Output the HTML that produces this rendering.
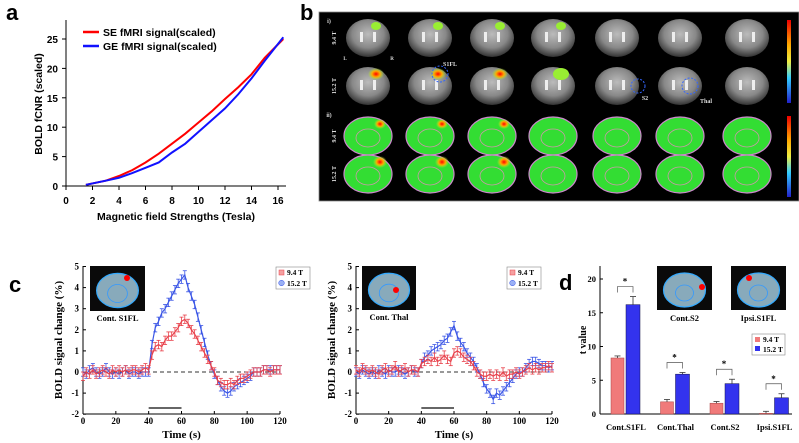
<!DOCTYPE html>
<html><head><meta charset="utf-8"><style>
html,body{margin:0;padding:0;background:#fff;}
svg{display:block;}
.sans{font-family:"Liberation Sans",sans-serif;font-weight:bold;}
.serif{font-family:"Liberation Serif",serif;font-weight:bold;}
</style></head><body>
<svg id="fig" width="799" height="443" viewBox="0 0 799 443" xmlns="http://www.w3.org/2000/svg">
<defs>
<radialGradient id="gb" cx="50%" cy="40%" r="60%"><stop offset="0" stop-color="#bbb"/><stop offset="0.6" stop-color="#888"/><stop offset="1" stop-color="#333"/></radialGradient>
<radialGradient id="hot" cx="50%" cy="50%" r="50%"><stop offset="0" stop-color="#f00"/><stop offset="0.5" stop-color="#fa0"/><stop offset="1" stop-color="#9f3" stop-opacity="0"/></radialGradient>
<linearGradient id="cbar" x1="0" y1="0" x2="0" y2="1"><stop offset="0" stop-color="#e00"/><stop offset="0.3" stop-color="#fa0"/><stop offset="0.5" stop-color="#ee4"/><stop offset="0.7" stop-color="#3cf"/><stop offset="1" stop-color="#22c"/></linearGradient>
</defs>
<g id="pa"></g>
<g id="pb"></g>
<g id="pc1"></g>
<g id="pc2"></g>
<g id="pd"></g>
</svg>
<script>
// ---- Panel a data
const aXTicks=[0,2,4,6,8,10,12,14,16];
const aYTicks=[0,5,10,15,20,25];
const seField=[1.5,3,4,5,6,7,8,9,10,11,12,13,14,15,16.4];
const seVals=[0.2,0.9,1.7,2.7,4,5.5,7.2,8.9,10.8,12.7,14.8,16.8,19,21.8,25];
const geField=[1.5,3,4,5,6,7,8,9,10,11,12,13,14,15,16.4];
const geVals=[0.2,0.9,1.4,2.2,3.1,4,5.7,7.2,9.2,11.2,13.2,15.6,18.3,21.3,25.3];
// ---- Panel c data (time step 2 s, 0..120)
const cTimes=[0,2,4,6,8,10,12,14,16,18,20,22,24,26,28,30,32,34,36,38,40,42,44,46,48,50,52,54,56,58,60,62,64,66,68,70,72,74,76,78,80,82,84,86,88,90,92,94,96,98,100,102,104,106,108,110,112,114,116,118,120];
const c1Red=[-0.2,0,-0.1,0.1,-0.1,0,0.1,0,-0.1,0.1,0,0.1,0,0.1,0,0.1,0.1,0,0.1,0.2,0.1,0.8,1.2,1.3,1.2,1.5,1.7,1.7,1.9,2.1,2.4,2.5,2.3,2.0,1.8,1.5,1.2,0.9,0.6,0.3,0,-0.4,-0.5,-0.6,-0.6,-0.5,-0.6,-0.4,-0.3,-0.3,-0.2,-0.1,0,0,0,0.1,0.1,0,0.1,0.1,0.1];
const c1Blue=[0,-0.1,0.1,0.2,0,-0.1,0,0.2,0,-0.1,0,-0.1,0,0.1,-0.1,0,0,-0.1,0,0,0,1.3,2.1,2.4,2.8,3.0,3.3,3.6,3.9,4.2,4.4,4.6,4.0,3.6,3.2,2.6,2.0,1.4,0.8,0.3,-0.1,-0.4,-0.7,-0.9,-1.0,-0.9,-0.7,-0.6,-0.5,-0.4,-0.3,-0.2,0,0,0,0.1,0.1,0.1,0.1,0.1,0.1];
const c2Red=[0.1,0,0.2,0.1,0,0.1,0,-0.1,0.1,0.2,0,0.1,0.3,0,0.1,0.2,0,0.1,0.1,0,0.4,0.5,0.6,0.5,0.7,0.5,0.6,0.8,0.6,0.5,0.9,1.0,0.9,0.7,0.6,0.5,0.3,0,-0.1,-0.2,-0.2,-0.1,-0.2,-0.1,-0.2,0,-0.2,-0.1,-0.1,0,-0.1,0,0.1,0.2,0.1,0.2,0.1,0.2,0.2,0.3,0.2];
const c2Blue=[0,-0.1,0.1,0,-0.1,0,-0.1,0.1,0,-0.1,0.1,0,0,0.1,0,-0.1,0,0.1,0,0,0.4,0.7,0.8,1.0,1.1,1.2,1.3,1.5,1.6,1.9,2.2,1.7,1.4,1.2,0.9,0.7,0.5,0.2,-0.1,-0.5,-0.8,-1.0,-1.3,-1.0,-1.1,-0.9,-0.7,-0.5,-0.3,-0.1,0,0,0.2,0.4,0.5,0.5,0.4,0.3,0.3,0.2,0.3];
const cXTicks=[0,20,40,60,80,100,120];
const cYTicks=[-2,-1,0,1,2,3,4,5];
// ---- Panel d data
const dCats=["Cont.S1FL","Cont.Thal","Cont.S2","Ipsi.S1FL"];
const d94=[8.3,1.8,1.6,0.1];
const d94Err=[0.3,0.35,0.25,0.3];
const d152=[16.2,5.9,4.5,2.4];
const d152Err=[1.2,0.25,0.65,0.6];
const dYTicks=[0,5,10,15,20];

const NS="http://www.w3.org/2000/svg";
function mk(tag,attrs,parent,txt){const e=document.createElementNS(NS,tag);for(const k in attrs)e.setAttribute(k,attrs[k]);if(txt!==undefined)e.textContent=txt;parent.appendChild(e);return e;}

// ===== Panel a
(function(){
const g=document.getElementById('pa');
const x=v=>66+v*13.25, y=v=>186-v*5.88;
const t=mk('text',{x:6,y:20,'font-size':22,class:'sans'},g,'a');

mk('line',{x1:66,y1:20,x2:66,y2:186,stroke:'#000','stroke-width':1},g);
mk('line',{x1:66,y1:186,x2:286,y2:186,stroke:'#000','stroke-width':1},g);
aYTicks.forEach(v=>{mk('line',{x1:62,x2:66,y1:y(v),y2:y(v),stroke:'#000'},g);
 const l=mk('text',{x:58,y:y(v)+4,'text-anchor':'end','font-size':10,class:'sans'},g,v);
 });
aXTicks.forEach(v=>{mk('line',{x1:x(v),x2:x(v),y1:186,y2:190,stroke:'#000'},g);
 const l=mk('text',{x:x(v),y:204,'text-anchor':'middle','font-size':10,class:'sans'},g,v);
 });
const xt=mk('text',{x:176,y:220,'text-anchor':'middle','font-size':10.5,class:'sans'},g,'Magnetic field Strengths (Tesla)');

const yt=mk('text',{x:0,y:0,'text-anchor':'middle','font-size':10.5,class:'sans',transform:'translate(42,104) rotate(-90)'},g,'BOLD fCNR (scaled)');

const se=mk('polyline',{points:seField.map((f,i)=>x(f)+','+y(seVals[i])).join(' '),fill:'none',stroke:'#f00','stroke-width':2},g);

const ge=mk('polyline',{points:geField.map((f,i)=>x(f)+','+y(geVals[i])).join(' '),fill:'none',stroke:'#11f','stroke-width':2},g);

mk('line',{x1:83,x2:99,y1:32,y2:32,stroke:'#f00','stroke-width':2.5},g);
mk('line',{x1:83,x2:99,y1:46,y2:46,stroke:'#11f','stroke-width':2.5},g);
const l1=mk('text',{x:103,y:36,'font-size':10.5,class:'sans'},g,'SE fMRI signal(scaled)');

const l2=mk('text',{x:103,y:50,'font-size':10.5,class:'sans'},g,'GE fMRI signal(scaled)');

})();

// ===== Panel b
(function(){
const g=document.getElementById('pb');
const t=mk('text',{x:300,y:20,'font-size':22,class:'sans'},g,'b');

mk('rect',{x:319,y:12,width:480,height:189,fill:'#000',stroke:'#888','stroke-width':0.8},g);
const cols=[368,430,492,553,617,680,747];
const rows=[38,86,136,174];
rows.forEach((cy,r)=>{cols.forEach((cx,c)=>{
 if(r<2){
  const b=mk('ellipse',{cx:cx,cy:cy,rx:22,ry:19,fill:'url(#gb)'},g);
  
  mk('rect',{x:cx-8,y:cy-6,width:3,height:10,fill:'#eee'},g);
  mk('rect',{x:cx+5,y:cy-6,width:3,height:10,fill:'#eee'},g);
  if(c<4){mk('ellipse',{cx:cx+8,cy:cy-12,rx:r?8:5,ry:r?6:4,fill:r&&c<3?'url(#hot)':'#9e3'},g);}
 } else {
  const b=mk('ellipse',{cx:cx,cy:cy,rx:24,ry:19,fill:'#3d3',stroke:'#c8c','stroke-width':1.2},g);
  
  mk('ellipse',{cx:cx,cy:cy+2,rx:12,ry:9,fill:'none',stroke:'#c9a','stroke-width':0.8},g);
  if(c<3){mk('ellipse',{cx:cx+12,cy:cy-12,rx:r==3?7:6,ry:r==3?6:5,fill:'url(#hot)'},g);}
 }
});});
[[20,103],[116,197]].forEach(([a,b2])=>{const cb=mk('rect',{x:787,y:a,width:4,height:b2-a,fill:'url(#cbar)'},g);
 });
const lab=(x,y,s,sz,rot)=>{const e=mk('text',{x:x,y:y,'font-size':sz||6,fill:'#ddd',class:'serif','text-anchor':'middle',transform:rot?`rotate(-90 ${x} ${y})`:''},g,s);};
lab(329,23,'i)');lab(329,117,'ii)');
lab(336,38,'9.4 T',6,1);lab(336,86,'15.2 T',6,1);lab(336,136,'9.4 T',6,1);lab(336,174,'15.2 T',6,1);
lab(345,60,'L',5);lab(392,60,'R',5);lab(450,66,'S1FL',6);lab(645,100,'S2',6);lab(706,103,'Thal',6);
mk('circle',{cx:440,cy:74,r:8,fill:'none',stroke:'#36f','stroke-width':1,'stroke-dasharray':'2,1.5'},g);
mk('circle',{cx:638,cy:86,r:7,fill:'none',stroke:'#36f','stroke-width':1,'stroke-dasharray':'2,1.5'},g);
mk('circle',{cx:690,cy:86,r:8,fill:'none',stroke:'#36f','stroke-width':1,'stroke-dasharray':'2,1.5'},g);
})();

// ===== Panel c
function tsPanel(gid,x0,x1,red,blue,inset,label,legX,letter){
const g=document.getElementById(gid);
const x=v=>x0+v*(x1-x0)/120, y=v=>372-v*21.1;
if(letter){const t=mk('text',{x:9,y:292,'font-size':22,class:'sans'},g,letter);}
mk('line',{x1:x0,y1:266,x2:x0,y2:414,stroke:'#000'},g);
mk('line',{x1:x0,y1:414,x2:x1,y2:414,stroke:'#000'},g);
cYTicks.forEach(v=>{mk('line',{x1:x0,x2:x0+3,y1:y(v),y2:y(v),stroke:'#000'},g);
 const l=mk('text',{x:x0-4,y:y(v)+3,'text-anchor':'end','font-size':9,class:'serif'},g,v);
 });
cXTicks.forEach(v=>{mk('line',{x1:x(v),x2:x(v),y1:414,y2:411,stroke:'#000'},g);
 const l=mk('text',{x:x(v),y:424,'text-anchor':'middle','font-size':9,class:'serif'},g,v);
 });
const xt=mk('text',{x:(x0+x1)/2,y:438,'text-anchor':'middle','font-size':11,class:'serif'},g,'Time (s)');

const yt=mk('text',{x:0,y:0,'text-anchor':'middle','font-size':11,class:'serif',transform:`translate(${x0-21},340) rotate(-90)`},g,'BOLD signal change (%)');

mk('line',{x1:x0,x2:x1,y1:y(0),y2:y(0),stroke:'#333','stroke-dasharray':'4,3'},g);
const stim=mk('line',{x1:x(40),x2:x(60),y1:408,y2:408,stroke:'#666','stroke-width':2},g);

[[blue,'#3a55e6','#9ab0f5','circle'],[red,'#e8404a','#f5a0a0','rect']].forEach(([vals,col,fillc,shape])=>{
 vals.forEach((v,i)=>{const e=0.2,px=x(cTimes[i]);
  mk('line',{x1:px,x2:px,y1:y(v+e),y2:y(v-e),stroke:col,'stroke-width':0.8},g);
  mk('line',{x1:px-2,x2:px+2,y1:y(v+e),y2:y(v+e),stroke:col,'stroke-width':0.8},g);
  mk('line',{x1:px-2,x2:px+2,y1:y(v-e),y2:y(v-e),stroke:col,'stroke-width':0.8},g);
 });
 const pl=mk('polyline',{points:vals.map((v,i)=>x(cTimes[i])+','+y(v)).join(' '),fill:'none',stroke:col,'stroke-width':1.2},g);
 
});
const ins=mk('rect',{x:inset[0],y:inset[1],width:inset[2],height:inset[3],fill:'#0a0a0a'},g);

const icx=inset[0]+inset[2]/2,icy=inset[1]+inset[3]/2+2;
mk('ellipse',{cx:icx,cy:icy,rx:inset[2]*0.38,ry:inset[3]*0.38,fill:'#8ab',stroke:'#3af','stroke-width':1.2},g);
mk('ellipse',{cx:icx,cy:icy+3,rx:inset[2]*0.18,ry:inset[3]*0.2,fill:'none',stroke:'#39f','stroke-width':0.8},g);
mk('circle',{cx:inset[4],cy:inset[5],r:3,fill:'#f00'},g);
const il=mk('text',{x:icx,y:inset[1]+inset[3]+10,'text-anchor':'middle','font-size':8.5,class:'serif'},g,label);

mk('rect',{x:legX,y:267,width:34,height:22,fill:'#fff',stroke:'#888','stroke-width':0.6},g);
mk('rect',{x:legX+3,y:270,width:5,height:5,fill:'#f5a0a0',stroke:'#e8404a','stroke-width':0.5},g);
mk('circle',{cx:legX+5.5,cy:283,r:2.8,fill:'#9ab0f5',stroke:'#3a55e6','stroke-width':0.5},g);
const a1=mk('text',{x:legX+11,y:275,'font-size':7.5,class:'serif'},g,'9.4 T');
const a2=mk('text',{x:legX+11,y:286,'font-size':7.5,class:'serif'},g,'15.2 T');
}
tsPanel('pc1',83,280,c1Red,c1Blue,[90,266,55,45,127,278],'Cont. S1FL',276,'c');
tsPanel('pc2',356,552,c2Red,c2Blue,[362,266,54,44,396,290],'Cont. Thal',507,null);

// ===== Panel d
(function(){
const g=document.getElementById('pd');
const y=v=>414-v*6.75, gx=i=>611+i*49.5;
const t=mk('text',{x:559,y:290,'font-size':22,class:'sans'},g,'d');
mk('line',{x1:600,y1:266,x2:600,y2:414,stroke:'#000'},g);
mk('line',{x1:600,y1:414,x2:792,y2:414,stroke:'#000'},g);
dYTicks.forEach(v=>{mk('line',{x1:600,x2:603,y1:y(v),y2:y(v),stroke:'#000'},g);
 const l=mk('text',{x:596,y:y(v)+3,'text-anchor':'end','font-size':8.5,class:'serif'},g,v);
 });
const yt=mk('text',{x:0,y:0,'text-anchor':'middle','font-size':10,class:'serif',transform:'translate(586,340) rotate(-90)'},g,'t value');

dCats.forEach((c,i)=>{
 const x=gx(i);
 const r=mk('rect',{x:x,y:y(d94[i]),width:13,height:y(0)-y(d94[i]),fill:'#f07a7a',stroke:'#a44','stroke-width':0.5},g);
 
 const b=mk('rect',{x:x+15,y:y(d152[i]),width:14,height:y(0)-y(d152[i]),fill:'#3333ee',stroke:'#114','stroke-width':0.5},g);
 
 [[x+6.5,d94[i],d94Err[i]],[x+22,d152[i],d152Err[i]]].forEach(([cx,v,e])=>{
  mk('line',{x1:cx,x2:cx,y1:y(v),y2:y(v+e),stroke:'#333','stroke-width':0.8},g);
  mk('line',{x1:cx-3,x2:cx+3,y1:y(v+e),y2:y(v+e),stroke:'#333','stroke-width':0.8},g);});
 const top=y(Math.max(d94[i]+d94Err[i],d152[i]+d152Err[i]))-10;
 mk('polyline',{points:`${x+6.5},${top+6} ${x+6.5},${top} ${x+22},${top} ${x+22},${top+6}`,fill:'none',stroke:'#555','stroke-width':0.7},g);
 const s=mk('text',{x:x+14,y:top-2,'text-anchor':'middle','font-size':9,class:'serif'},g,'*');
 const l=mk('text',{x:x+15,y:430,'text-anchor':'middle','font-size':8.5,class:'serif'},g,c);
});
[[657,'Cont.S2',702,287],[731,'Ipsi.S1FL',749,278]].forEach(([ix,lab,rx,ry])=>{
 const ins=mk('rect',{x:ix,y:266,width:55,height:44,fill:'#0a0a0a'},g);
 mk('ellipse',{cx:ix+27.5,cy:290,rx:21,ry:17,fill:'#8ab',stroke:'#3af','stroke-width':1.2},g);
 mk('ellipse',{cx:ix+27.5,cy:293,rx:9,ry:8,fill:'none',stroke:'#39f','stroke-width':0.8},g);
 mk('circle',{cx:rx,cy:ry,r:3,fill:'#f00'},g);
 const t2=mk('text',{x:ix+27.5,y:321,'text-anchor':'middle','font-size':8.5,class:'serif'},g,lab);
});
mk('rect',{x:752,y:334,width:33,height:21,fill:'#fff',stroke:'#888','stroke-width':0.6},g);
mk('rect',{x:755,y:337,width:5,height:5,fill:'#f07a7a'},g);
mk('rect',{x:755,y:346,width:5,height:5,fill:'#3333ee'},g);
const a1=mk('text',{x:763,y:342,'font-size':7.5,class:'serif'},g,'9.4 T');
const a2=mk('text',{x:763,y:352,'font-size':7.5,class:'serif'},g,'15.2 T');
})();
</script>
</body></html>
